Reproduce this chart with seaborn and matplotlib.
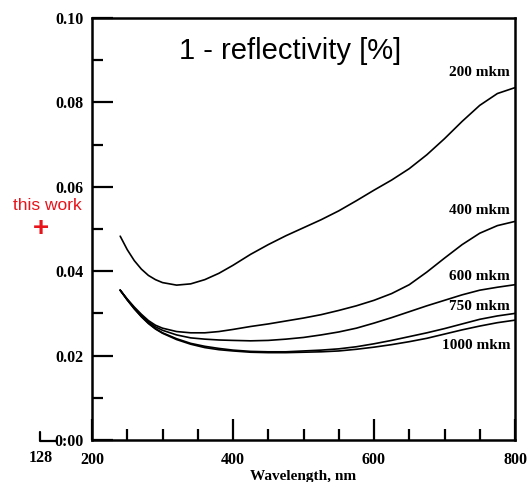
import numpy as np
import pandas as pd
import matplotlib
matplotlib.use("Agg")
import matplotlib.pyplot as plt
from matplotlib.lines import Line2D
from matplotlib.ticker import MultipleLocator
import seaborn as sns

wavelength = [240, 250, 260, 270, 280, 290, 300, 320, 340, 360, 380, 400, 425, 450,
              475, 500, 525, 550, 575, 600, 625, 650, 675, 700, 725, 750, 775, 800]

r_200 = [0.0483, 0.0451, 0.0425, 0.0405, 0.0390, 0.0380, 0.0373, 0.0367, 0.0370, 0.0380,
         0.0395, 0.0414, 0.0440, 0.0463, 0.0484, 0.0503, 0.0522, 0.0543, 0.0567, 0.0592,
         0.0616, 0.0643, 0.0676, 0.0714, 0.0755, 0.0793, 0.0821, 0.0835]
r_400 = [0.0355, 0.0334, 0.0315, 0.0298, 0.0283, 0.0272, 0.0265, 0.0257, 0.0254, 0.0254,
         0.0257, 0.0262, 0.0269, 0.0275, 0.0282, 0.0289, 0.0297, 0.0307, 0.0318, 0.0331,
         0.0347, 0.0368, 0.0398, 0.0431, 0.0463, 0.0490, 0.0508, 0.0518]
r_600 = [0.0355, 0.0333, 0.0313, 0.0295, 0.0280, 0.0268, 0.0260, 0.0249, 0.0242, 0.0239,
         0.0237, 0.0236, 0.0235, 0.0236, 0.0239, 0.0243, 0.0249, 0.0256, 0.0265, 0.0277,
         0.0290, 0.0304, 0.0318, 0.0331, 0.0344, 0.0355, 0.0362, 0.0368]
r_750 = [0.0355, 0.0332, 0.0311, 0.0293, 0.0277, 0.0264, 0.0254, 0.0240, 0.0229, 0.0222,
         0.0217, 0.0213, 0.0210, 0.0209, 0.0209, 0.0211, 0.0213, 0.0216, 0.0221, 0.0228,
         0.0236, 0.0245, 0.0254, 0.0264, 0.0275, 0.0286, 0.0294, 0.0300]
r_1000 = [0.0355, 0.0332, 0.0311, 0.0292, 0.0276, 0.0263, 0.0253, 0.0238, 0.0227, 0.0219,
          0.0214, 0.0211, 0.0208, 0.0207, 0.0207, 0.0208, 0.0209, 0.0211, 0.0215, 0.0220,
          0.0226, 0.0233, 0.0241, 0.0251, 0.0261, 0.0270, 0.0278, 0.0284]

series_names = ["200 mkm", "400 mkm", "600 mkm", "750 mkm", "1000 mkm"]
series_values = [r_200, r_400, r_600, r_750, r_1000]
label_y = [0.0870, 0.0543, 0.0387, 0.0316, 0.0225]

y_ticks = [0.00, 0.02, 0.04, 0.06, 0.08, 0.10]
y_tick_labels = ["0:00", "0.02", "0.04", "0.06", "0.08", "0.10"]
x_ticks = [200, 400, 600, 800]
x_tick_labels = ["200", "400", "600", "800"]

title_text = "1 - reflectivity [%]"
x_label = "Wavelength, nm"

frames = []
for name, vals in zip(series_names, series_values):
    frames.append(pd.DataFrame({"wavelength": wavelength, "value": vals, "series": name}))
df = pd.concat(frames, ignore_index=True)

sns.set_style("ticks")
plt.rcParams["font.family"] = ["Liberation Serif", "DejaVu Serif"]
plt.rcParams["text.color"] = "black"
plt.rcParams["axes.labelcolor"] = "black"
plt.rcParams["xtick.color"] = "black"
plt.rcParams["ytick.color"] = "black"

fig = plt.figure(figsize=(5.28, 4.82), dpi=100)
ax = fig.add_axes([92 / 528, 1 - 440 / 482, 423 / 528, 422 / 482])

sns.lineplot(data=df, x="wavelength", y="value", hue="series",
             palette=["black"] * len(series_names), legend=False,
             linewidth=1.2, ax=ax, sort=False)

ax.set_xlim(200, 800)
ax.set_ylim(0.0, 0.10)
ax.set_xticks(x_ticks)
ax.set_xticklabels(x_tick_labels)
ax.set_yticks(y_ticks)
ax.set_yticklabels(y_tick_labels)
ax.xaxis.set_minor_locator(MultipleLocator(50))
ax.yaxis.set_minor_locator(MultipleLocator(0.01))

ax.tick_params(axis="y", which="major", direction="in", length=15, width=1.6,
               labelsize=11.5, pad=6, colors="black")
ax.tick_params(axis="x", which="major", direction="in", length=15, width=1.6,
               labelsize=11.5, pad=9, colors="black")
ax.tick_params(axis="both", which="minor", direction="in", length=8, width=1.6,
               colors="black")
for lab in ax.get_xticklabels() + ax.get_yticklabels():
    lab.set_fontweight("bold")
    lab.set_color("black")

for sp in ax.spines.values():
    sp.set_visible(True)
    sp.set_linewidth(1.8)
    sp.set_color("black")

ax.set_xlabel(x_label, fontsize=11, fontweight="bold", labelpad=1, color="black")
ax.set_ylabel("")

ax.text(0.469, 0.922, title_text, transform=ax.transAxes, ha="center", va="center",
        fontsize=21, color="black", family=["Liberation Sans", "DejaVu Sans"])

for name, ly in zip(series_names, label_y):
    ax.text(793, ly, name, ha="right", va="center", fontsize=11, fontweight="bold",
            color="black")

# annotations outside axes
fig.text(47 / 528, 1 - 206 / 482, "this work", color="#e8141b", ha="center", va="center",
         fontsize=12.5, family=["Liberation Sans", "DejaVu Sans"])
fig.text(40.5 / 528, 1 - 229 / 482, "+", color="#e8141b", ha="center", va="center",
         fontsize=20, fontweight="bold", family=["Liberation Sans", "DejaVu Sans"])
fig.text(41 / 528, 1 - 458 / 482, "128", ha="center", va="center", fontsize=11.5,
         fontweight="bold", color="black")
fig.add_artist(Line2D([40 / 528, 40 / 528, 56 / 528],
                      [1 - 432 / 482, 1 - 441 / 482, 1 - 441 / 482],
                      transform=fig.transFigure, color="black", linewidth=1.6))

fig.savefig("out.png", dpi=100, facecolor="white")
